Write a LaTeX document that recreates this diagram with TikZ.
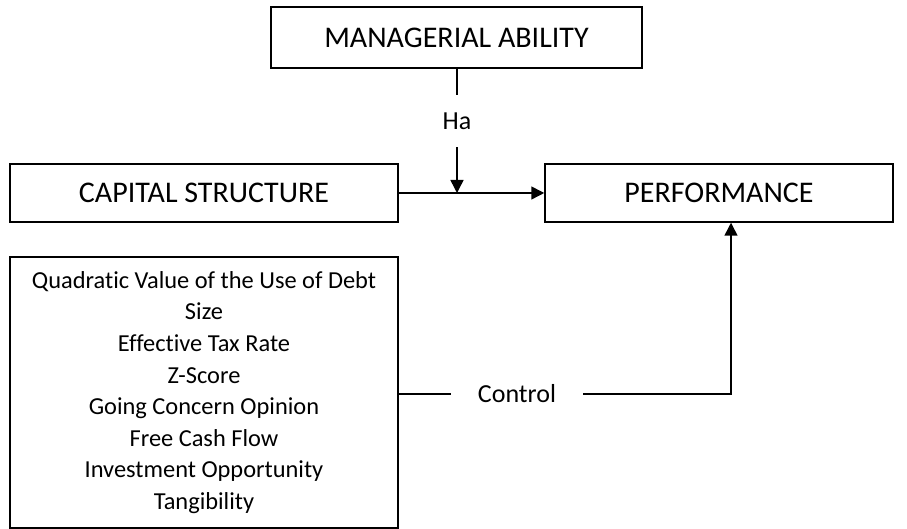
\documentclass[tikz,border=0pt]{standalone}
\usepackage{fontspec}
\setmainfont{Carlito}[Ligatures=NoCommon]
\usetikzlibrary{arrows.meta}

\begin{document}
\begin{tikzpicture}[x=1pt,y=1pt,line width=1.5pt,
  box/.style={draw,inner sep=0pt,align=center,font=\fontsize{30}{36}\selectfont},
  lbl/.style={inner sep=0pt,font=\fontsize{26}{30}\selectfont},
  arr/.style={-{Triangle[length=13pt,width=13pt]}}]
\useasboundingbox (0,0) rectangle (907,529);
% Boxes
\node[box,minimum width=371,minimum height=61] (mgr) at (456.5,491.5) {MANAGERIAL ABILITY};
\node[box,minimum width=388,minimum height=58] (cap) at (204,336) {CAPITAL STRUCTURE};
\node[box,minimum width=348,minimum height=58] (perf) at (719,336) {PERFORMANCE};
\node[box,minimum width=388,minimum height=271,font=\fontsize{24.4}{31.6}\selectfont] (ctrlbox) at (204,136.5)
  {Quadratic Value of the Use of Debt\\Size\\Effective Tax Rate\\Z-Score\\
   Going Concern Opinion\\Free Cash Flow\\Investment Opportunity\\Tangibility};
% Labels
\node[lbl,minimum height=51] (ha) at (457,408) {Ha};
\node[lbl,minimum width=131] (ctl) at (517,135) {Control};
% Connectors
\draw[arr] (cap) -- (perf);
\coordinate (hit) at (ha |- cap.east);
\draw (mgr.south -| ha) -- (ha.north);
\draw[arr] (ha.south) -- (hit);
\draw (ctrlbox.east |- ctl.west) -- (ctl.west);
\draw[arr] (ctl.east) -| ([xshift=12pt]perf.south);
\end{tikzpicture}
\end{document}
